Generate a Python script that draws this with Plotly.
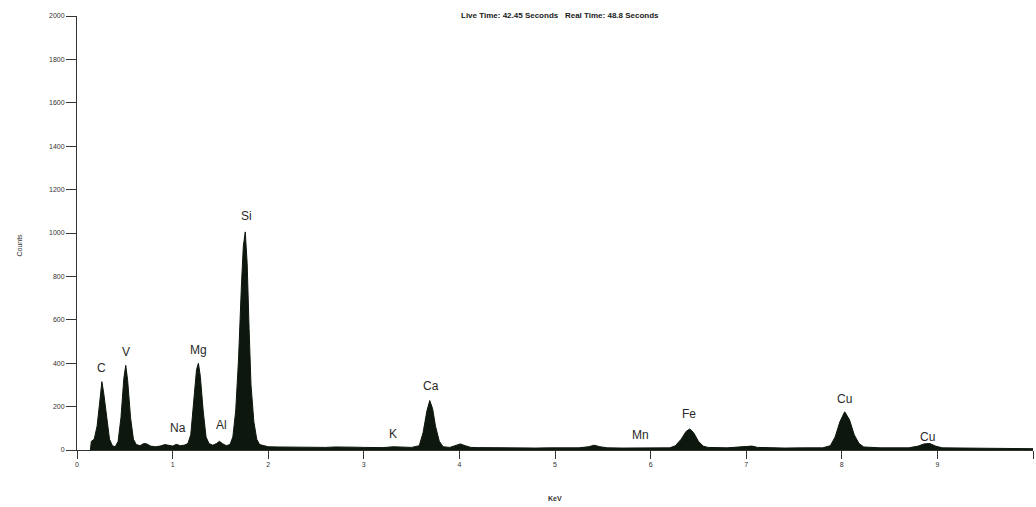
import plotly.graph_objects as go

# EDS spectrum, counts vs energy (keV)
energy_kev = [
    0.14, 0.15, 0.18, 0.21, 0.24, 0.26, 0.28, 0.31, 0.34, 0.37, 0.40,
    0.43, 0.46, 0.49, 0.51, 0.53, 0.56, 0.59, 0.62, 0.66, 0.70, 0.73,
    0.77, 0.82, 0.87, 0.92, 0.96, 1.00, 1.04, 1.08, 1.12, 1.16, 1.19,
    1.22, 1.25, 1.27, 1.29, 1.32, 1.35, 1.38, 1.42, 1.46, 1.49, 1.52,
    1.56, 1.60, 1.63, 1.66, 1.69, 1.72, 1.74, 1.76, 1.78, 1.80, 1.82,
    1.85, 1.88, 1.91, 1.95, 2.00, 2.10, 2.20, 2.30, 2.40, 2.50, 2.60,
    2.70, 2.80, 2.90, 3.00, 3.10, 3.20, 3.31, 3.40, 3.50, 3.58, 3.62,
    3.66, 3.69, 3.72, 3.75, 3.79, 3.83, 3.90, 3.96, 4.01, 4.06, 4.12,
    4.20, 4.35, 4.50, 4.65, 4.80, 4.95, 5.10, 5.25, 5.35, 5.41, 5.47,
    5.55, 5.70, 5.85, 5.95, 6.10, 6.20, 6.26, 6.32, 6.37, 6.41, 6.45,
    6.50, 6.55, 6.60, 6.80, 7.00, 7.06, 7.12, 7.25, 7.40, 7.60, 7.80,
    7.88, 7.93, 7.98, 8.03, 8.08, 8.13, 8.18, 8.23, 8.40, 8.55, 8.70,
    8.80, 8.86, 8.92, 8.98, 9.05, 9.25, 9.50, 9.75, 10.00,
]
counts = [
    0, 40, 50, 110, 230, 315, 260, 140, 50, 20, 15,
    40, 150, 330, 390, 320, 150, 50, 25, 20, 30, 28,
    18, 15, 18, 25, 20, 18, 26, 20, 22, 30, 70,
    220, 370, 400, 340, 180, 60, 30, 22, 30, 40, 30,
    20, 25, 60, 180, 420, 760, 940, 1005, 860, 560, 300,
    130, 50, 25, 20, 15, 14, 13, 14, 12, 13, 12,
    14, 12, 13, 12, 12, 11, 15, 12, 12, 20, 80,
    180, 228, 190, 110, 40, 15, 12, 20, 28, 20, 12,
    11, 10, 11, 10, 9, 10, 9, 10, 15, 22, 15,
    10, 9, 10, 9, 10, 10, 20, 50, 85, 97, 80,
    40, 18, 12, 10, 14, 18, 12, 10, 9, 10, 10,
    20, 60, 130, 176, 140, 70, 30, 14, 10, 9, 10,
    18, 28, 30, 18, 10, 8, 8, 7, 6,
]

# element labels and where they sit (keV, counts)
elements = ["C", "V", "Na", "Mg", "Al", "Si", "K", "Ca", "Mn", "Fe", "Cu", "Cu"]
label_kev = [0.26, 0.51, 1.06, 1.27, 1.51, 1.77, 3.31, 3.70, 5.89, 6.40, 8.03, 8.90]
label_counts = [378, 452, 101, 461, 115, 1078, 74, 295, 69, 166, 235, 60]

x_ticks = list(range(0, 11))
y_ticks = list(range(0, 2001, 200))

fig = go.Figure(
    go.Scatter(
        x=energy_kev,
        y=counts,
        mode="lines",
        fill="tozeroy",
        fillcolor="#0d170d",
        line=dict(color="#0d170d", width=1),
        hoverinfo="x+y",
    )
)

for name, xk, yc in zip(elements, label_kev, label_counts):
    fig.add_annotation(
        x=xk, y=yc, text=name, showarrow=False,
        font=dict(family="Liberation Sans, Arial", size=12, color="#2a2a2a"),
    )

fig.add_annotation(
    xref="paper", yref="paper", x=0.505, y=1.0, yshift=1,
    text="<b>Live Time: 42.45 Seconds   Real Time: 48.8 Seconds</b>",
    showarrow=False, yanchor="middle",
    font=dict(family="Liberation Sans Narrow, Liberation Sans", size=8, color="#1a1a1a"),
)
fig.add_annotation(
    xref="paper", yref="paper", x=-0.066, y=0.472, text="Counts",
    textangle=-90, showarrow=False,
    font=dict(family="Liberation Sans", size=7, color="#333"),
)
fig.add_annotation(
    xref="paper", yref="paper", x=0.50, y=-0.11, yshift=-6, text="<b>KeV</b>",
    showarrow=False,
    font=dict(family="Liberation Sans", size=7, color="#333"),
)

fig.update_xaxes(
    range=[0, 10], tickvals=x_ticks, showgrid=False, zeroline=False,
    showline=True, linecolor="#333", linewidth=1,
    ticks="outside", ticklen=8, tickcolor="#333",
    tickfont=dict(family="Liberation Sans", size=7, color="#333"),
)
fig.update_yaxes(
    range=[0, 2000], tickvals=y_ticks, showgrid=False, zeroline=False,
    showline=True, linecolor="#333", linewidth=1,
    ticks="outside", ticklen=10, tickcolor="#333",
    tickfont=dict(family="Liberation Sans", size=7, color="#333"),
)

fig.update_layout(
    width=1036,
    height=507,
    margin=dict(l=77, r=3, t=16, b=57),
    paper_bgcolor="white",
    plot_bgcolor="white",
    showlegend=False,
)

# drop the page's default body margin so the figure sits at the window's corner
fig.write_html(
    "out.html",
    config={"displayModeBar": False},
    post_script="document.body.style.margin='0';",
)
